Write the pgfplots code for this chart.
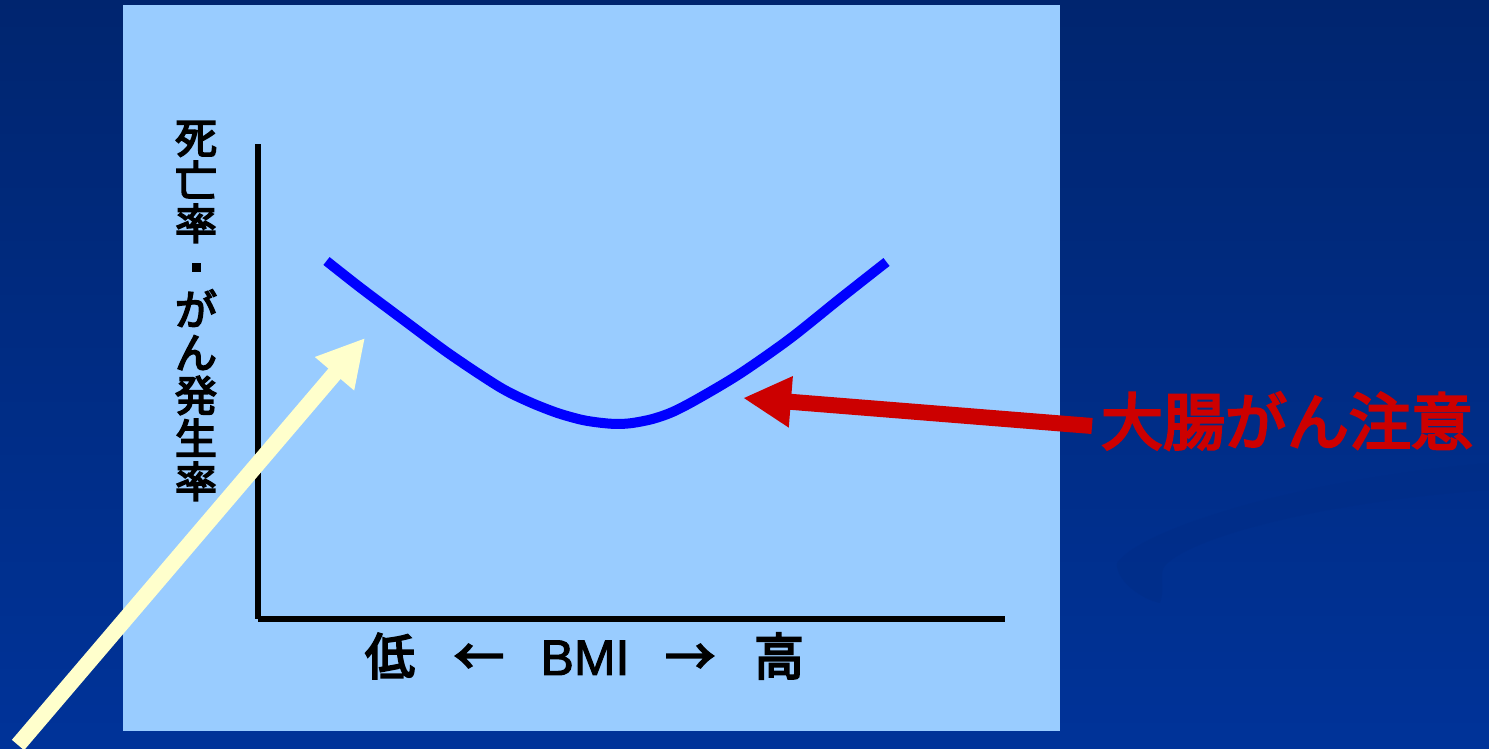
\documentclass[border=0pt]{standalone}
\usepackage{fontspec}
\usepackage{pgfplots}
\pgfplotsset{compat=1.18}
\usetikzlibrary{arrows.meta}
\setmainfont{Noto Sans CJK JP}
\newfontfamily\med[FakeBold=4]{Noto Sans CJK JP}
\newfontfamily\lat[FakeBold=2]{Liberation Sans}
\definecolor{bgtop}{HTML}{00256F}
\definecolor{bgmid}{HTML}{003296}
\definecolor{bgbot}{HTML}{003399}
\definecolor{swoosh}{HTML}{002C86}
\definecolor{panel}{HTML}{99CCFF}
\definecolor{curve}{HTML}{0000FF}
\definecolor{redarrow}{HTML}{CC0000}
\definecolor{yellowarrow}{HTML}{FFFFCC}

\pgfplotstableread{
x y
69 358
102 332
142 302
192 265
242 232
272 217
300 206
325 199
345 196
360 195
375 196
395 200
415 207
440 220
482 245
532 280
582 320
629 357
}\curvedata

\begin{document}
\begin{tikzpicture}[x=1pt,y=1pt]
\clip (0,0) rectangle (1489,749);
\shade[top color=bgtop, middle color=bgmid, bottom color=bgbot] (0,0) rectangle (1489,749);
% subtle swoosh
\fill[swoosh, opacity=0.45] (1489,286) .. controls (1300,270) and (1140,220) .. (1117,186)
  .. controls (1115,170) and (1140,150) .. (1160,146)
  .. controls (1165,160) and (1160,170) .. (1163,180)
  .. controls (1175,205) and (1300,245) .. (1489,259) -- cycle;
% panel
\fill[panel] (123,18) rectangle (1060,744);

\begin{axis}[
  at={(257.5pt,130pt)}, anchor=south west,
  scale only axis, width=747.5pt, height=475pt,
  xmin=0, xmax=747.5, ymin=0, ymax=475,
  axis lines=left, axis line style={line width=6pt, -, black},
  xtick=\empty, ytick=\empty, clip=false,
]
\addplot[curve, line width=10pt, smooth, line cap=butt] table[x=x,y=y] {\curvedata};
\end{axis}

% y label
\node[align=center, font=\fontsize{42}{43}\selectfont\med, text=black, inner sep=0pt] at (196,438)
  {死\\亡\\率\\\rule[0.25em]{9pt}{9pt}\\が\\ん\\発\\生\\率};
% x label
\begin{scope}[every node/.style={anchor=base, inner sep=0pt, text=black, font=\fontsize{50}{56}\selectfont\med}]
\node at (390,74) {低};
\node at (479,74) {←};
\node at (585,74) {\lat BMI};
\node at (690,74) {→};
\node at (779,74) {高};
\end{scope}

% red arrow and text
\draw[redarrow, line width=16pt, -{Triangle[length=48pt,width=48pt]}] (1092,323) -- (743,351);
\node[text=redarrow, font=\fontsize{62}{70}\selectfont\med, inner sep=0pt] at (1287,328) {大腸がん注意};

% yellow arrow
\draw[yellowarrow, line width=16pt, -{Triangle[length=47pt,width=48pt]}] (18,4) -- (365,411);
\end{tikzpicture}
\end{document}
